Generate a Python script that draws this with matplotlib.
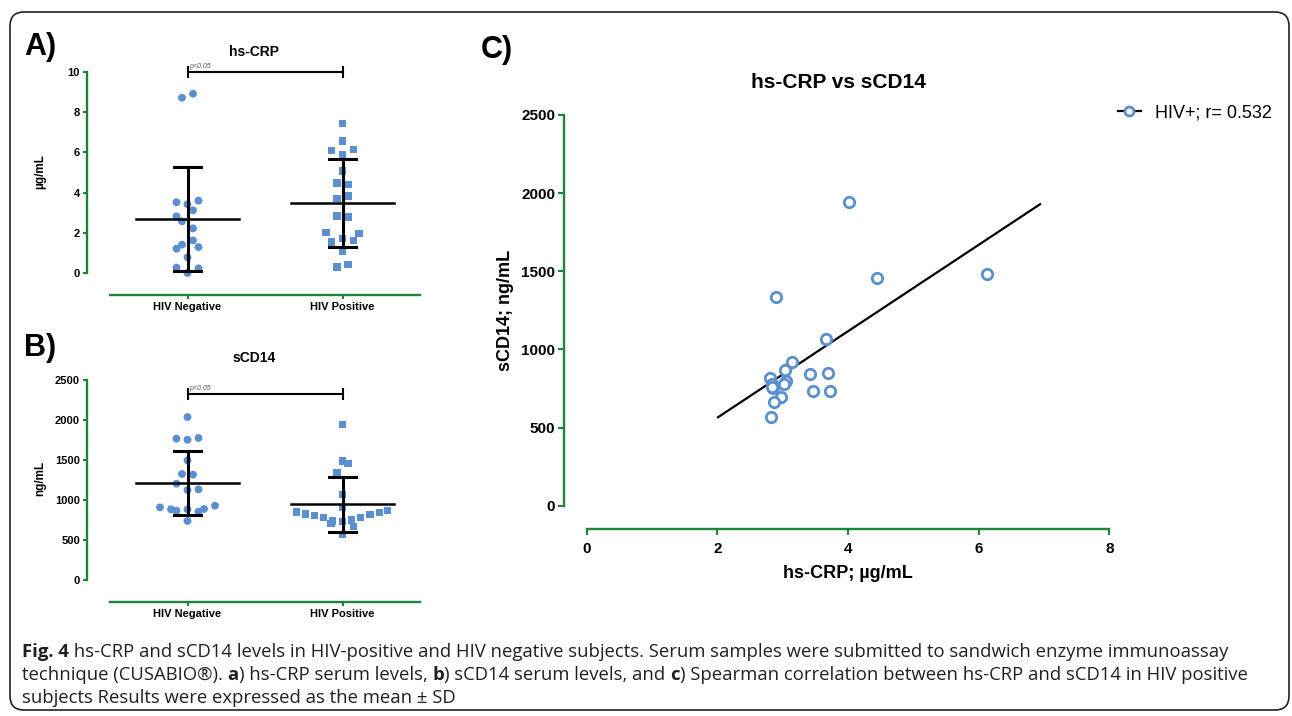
# Fig. 4 re-drawn: hs-CRP / sCD14 dot plots (A, B) and correlation scatter (C)
import numpy as np
import matplotlib
matplotlib.use("Agg")
import matplotlib.pyplot as plt
from matplotlib.lines import Line2D
from matplotlib.patches import FancyBboxPatch
from matplotlib.transforms import IdentityTransform

plt.rcParams["font.family"] = ["Liberation Sans", "DejaVu Sans"]

W, H = 1292, 716
GREEN = "#1e8439"
BLUE = "#5b8fd0"

groups = ["HIV Negative", "HIV Positive"]

# hs-CRP (ug/mL) per subject, slot = sideways position of the dot in its column
crp_neg = [8.72, 8.92, 3.52, 3.42, 3.60, 3.12, 2.82, 2.57, 2.22, 1.62, 1.41, 1.21, 1.29, 0.78, 0.27, 0.23, 0.0]
crp_neg_slot = [-1, 1, -2, 0, 2, 1, -2, -1, 1, 1, -1, -2, 2, 0, -2, 2, 0]
crp_pos = [7.43, 6.57, 6.10, 6.14, 5.90, 5.07, 4.48, 4.39, 3.70, 3.83, 2.84, 2.79, 2.01, 1.96, 1.54, 1.71, 1.63,
           1.09, 0.30, 0.41]
crp_pos_slot = [0, 0, -2, 2, 0, 0, -1, 1, -1, 1, -1, 1, -3, 3, -2, 0, 2, 0, -1, 1]

# sCD14 (ng/mL) per subject
scd_neg = [2037, 1767, 1754, 1775, 1496, 1325, 1317, 1204, 1125, 1133, 908, 883, 867, 883, 854, 888, 929, 738]
scd_neg_slot = [0, -2, 0, 2, 0, -1, 1, -2, 0, 2, -5, -3, -2, 0, 2, 3, 5, 0]
scd_pos = [1946, 1488, 1458, 1342, 1071, 908, 850, 825, 804, 779, 704, 738, 729, 667, 750, 783, 817, 846, 871, 571]
scd_pos_slot = [0, 0, 1, -1, 0, 0, -8.4, -6.7, -5.1, -3.4, -2.1, -1.8, 0, 2, 1.6, 3.3, 5, 6.7, 8.2, 0]

# HIV+ pairs for the correlation panel
corr_crp = [4.02, 4.44, 6.13, 2.90, 3.66, 3.15, 3.04, 2.80, 3.05, 3.02, 2.83, 2.85, 3.42, 3.70, 3.47, 3.72,
            2.97, 2.86, 2.82, 2.83]
corr_scd = [1945, 1455, 1483, 1335, 1065, 918, 868, 819, 800, 777, 777, 751, 843, 847, 734, 734,
            694, 664, 568, 760]
fit_x = [2.01, 6.94]
fit_y = [566, 1929]
r_value = 0.532


def px_rect(x0, y0, x1, y1):
    return [x0 / W, 1 - y1 / H, (x1 - x0) / W, (y1 - y0) / H]


def style_axes(ax, left_off, bottom_off, labelsize, tick_len):
    ax.patch.set_visible(False)
    for s in ["top", "right"]:
        ax.spines[s].set_visible(False)
    for s in ["left", "bottom"]:
        ax.spines[s].set_color(GREEN)
        ax.spines[s].set_linewidth(1.7)
    ax.spines["left"].set_position(("outward", left_off * 0.72))
    ax.spines["bottom"].set_position(("outward", bottom_off * 0.72))
    ax.tick_params(color=GREEN, width=1.5, length=tick_len, labelsize=labelsize, pad=2)
    for lab in ax.get_xticklabels() + ax.get_yticklabels():
        lab.set_fontweight("bold")


fig = plt.figure(figsize=(W / 100, H / 100), dpi=100)

slot_w = 5.5 / 155  # one slot in data units of the dot plots


def dot_panel(ax, neg, neg_slot, pos, pos_slot, ymax, step, bracket_y):
    ax.set_xlim(-0.5, 1.5)
    ax.set_ylim(0, ymax)
    ax.scatter(0 + np.array(neg_slot) * slot_w, neg, s=32, marker="o", color=BLUE,
               edgecolors="none", zorder=2, clip_on=False)
    ax.scatter(1 + np.array(pos_slot) * slot_w, pos, s=28, marker="s", color=BLUE,
               edgecolors="none", zorder=2, clip_on=False)
    for i, vals in enumerate([neg, pos]):
        m = np.mean(vals)
        sd = np.std(vals, ddof=1)
        ax.plot([i - 0.33, i + 0.33], [m, m], color="black", lw=1.8, zorder=3, clip_on=False)
        ax.plot([i, i], [m - sd, m + sd], color="black", lw=2.2, zorder=3, clip_on=False)
        for e in (m - sd, m + sd):
            ax.plot([i - 0.085, i + 0.085], [e, e], color="black", lw=2.2, zorder=3, clip_on=False)
    ax.plot([0, 1], [bracket_y, bracket_y], color="black", lw=1.5, marker="|", ms=9, mew=1.5,
            clip_on=False, zorder=3)
    ax.annotate("p<0.05", xy=(0, bracket_y), xytext=(1.5, 1.5), textcoords="offset points",
                fontsize=5, style="italic", color="#555555", va="bottom", ha="left")
    ax.set_xticks([0, 1])
    ax.set_xticklabels(groups)
    ax.set_yticks(np.arange(0, ymax + step / 2, step))
    style_axes(ax, 23, 22, 8, 3)


axA = fig.add_axes(px_rect(110, 72, 420, 273))
dot_panel(axA, crp_neg, crp_neg_slot, crp_pos, crp_pos_slot, 10, 2, 10)

axB = fig.add_axes(px_rect(110, 380, 420, 580))
dot_panel(axB, scd_neg, scd_neg_slot, scd_pos, scd_pos_slot, 2500, 500, 2325)

# panel C
axC = fig.add_axes(px_rect(586.7, 115, 1109.3, 505.7))
axC.set_xlim(0, 8)
axC.set_ylim(0, 2500)
axC.plot(fit_x, fit_y, color="black", lw=1.6, zorder=2)
axC.plot(corr_crp, corr_scd, ls="none", marker="o", ms=7.5, mfc="white", mec=BLUE, mew=2.0, zorder=3)
axC.set_xticks([0, 2, 4, 6, 8])
axC.set_yticks([0, 500, 1000, 1500, 2000, 2500])
style_axes(axC, 22.4, 23, 11, 4.5)
axC.tick_params(axis="x", pad=5)

handle = Line2D([], [], color="black", lw=1.6, marker="o", ms=6.5, mfc="white", mec=BLUE, mew=2.0)
axC.legend([handle], [f"HIV+; r= {r_value}"], loc="center left",
           bbox_to_anchor=(1118 / W, 1 - 113 / H), bbox_transform=fig.transFigure,
           frameon=False, borderpad=0, borderaxespad=0, handlelength=1.25, handletextpad=0.8,
           numpoints=1, prop={"size": 13})

# titles, labels
fig.text(40 / W, 1 - 47 / H, "A)", fontsize=22, fontweight="bold", ha="center", va="center")
fig.text(40 / W, 1 - 348 / H, "B)", fontsize=22, fontweight="bold", ha="center", va="center")
fig.text(497 / W, 1 - 50 / H, "C)", fontsize=22, fontweight="bold", ha="center", va="center")
fig.text(254 / W, 1 - 52 / H, "hs-CRP", fontsize=10, fontweight="bold", ha="center", va="center")
fig.text(254 / W, 1 - 358 / H, "sCD14", fontsize=10, fontweight="bold", ha="center", va="center")
fig.text(838 / W, 1 - 82 / H, "hs-CRP vs sCD14", fontsize=15, fontweight="bold", ha="center", va="center")
fig.text(40 / W, 1 - 172 / H, "µg/mL", fontsize=8.5, fontweight="bold", rotation=90, ha="center", va="center")
fig.text(40 / W, 1 - 478 / H, "ng/mL", fontsize=8.5, fontweight="bold", rotation=90, ha="center", va="center")
fig.text(506 / W, 1 - 310 / H, "sCD14; ng/mL", fontsize=13, fontweight="bold", rotation=90,
         ha="center", va="center")
fig.text(848 / W, 1 - 574 / H, "hs-CRP; µg/mL", fontsize=13, fontweight="bold", ha="center", va="center")

# caption
cap_lines = [
    [("Fig. 4", "bold"),
     (" hs-CRP and sCD14 levels in HIV-positive and HIV negative subjects. Serum samples were submitted "
      "to sandwich enzyme immunoassay", "normal")],
    [("technique (CUSABIO®). ", "normal"), ("a", "bold"), (") hs-CRP serum levels, ", "normal"),
     ("b", "bold"), (") sCD14 serum levels, and ", "normal"), ("c", "bold"),
     (") Spearman correlation between hs-CRP and sCD14 in HIV positive", "normal")],
    [("subjects Results were expressed as the mean ± SD", "normal")],
]
cap_y = [652, 675, 698]
cap_font = ["Open Sans", "DejaVu Sans"]
renderer = fig.canvas.get_renderer()

probe = fig.text(0, 0, "".join(p[0] for p in cap_lines[0]), fontsize=12, family=cap_font)
cap_size = 12 * 1195 / probe.get_window_extent(renderer).width
probe.remove()

for y_px, parts in zip(cap_y, cap_lines):
    x = 22
    for txt, weight in parts:
        t = fig.text(x / W, 1 - y_px / H, txt, fontsize=cap_size, fontweight=weight, family=cap_font,
                     color="#231f20", ha="left", va="center")
        x += t.get_window_extent(renderer).width

# rounded border round the whole figure
border = FancyBboxPatch((10, 6), 1279, 698, boxstyle="round,pad=0,rounding_size=14",
                        transform=IdentityTransform(), fill=False, ec="#222222", lw=1.2)
fig.patches.append(border)

fig.savefig("out.png", dpi=100)
